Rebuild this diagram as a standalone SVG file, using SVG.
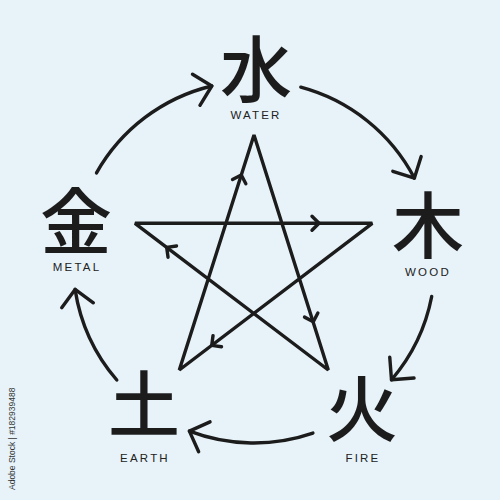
<svg xmlns="http://www.w3.org/2000/svg" width="500" height="500" viewBox="0 0 500 500">
<style>
.ln{fill:none;stroke:#1c1c1c;stroke-width:3.4;stroke-linecap:round;stroke-linejoin:round}
.kanji{font-family:"Noto Sans CJK JP","Noto Sans CJK SC",sans-serif;font-weight:500;font-size:72px;fill:#1c1c1c;text-anchor:middle}
.lbl{font-family:"Liberation Sans",Arial,sans-serif;font-size:11.5px;letter-spacing:2.2px;fill:#222;text-anchor:middle}
.wm{font-family:"Liberation Sans",Arial,sans-serif;font-size:8.5px;fill:#333}
</style>
<defs>
<marker id="bigArrow" markerUnits="userSpaceOnUse" markerWidth="40" markerHeight="40" refX="0" refY="0" orient="auto" overflow="visible">
<path d="M-16,-16 L0,0 L-16,16" class="ln"/>
</marker>
<path id="chev" d="M-7,-7 L0,0 L-7,7" class="ln"/>
</defs>
<rect width="500" height="500" fill="#e7f3f9"/>
<g id="connectors">
<path class="ln" marker-end="url(#bigArrow)" d="M96.5,172.9 A181,181 0 0 1 211.8,86"/>
<path class="ln" marker-end="url(#bigArrow)" d="M300.8,87.2 A181,181 0 0 1 414.4,178.1"/>
<path class="ln" marker-end="url(#bigArrow)" d="M431.7,296.5 A181,181 0 0 1 391.5,379.8"/>
<path class="ln" marker-end="url(#bigArrow)" d="M312.9,433.1 A181,181 0 0 1 189.4,431.1"/>
<path class="ln" marker-end="url(#bigArrow)" d="M116.8,380 A181,181 0 0 1 75.1,289.4"/>
</g>
<g id="star">
<path class="ln" style="stroke-linejoin:miter;stroke-miterlimit:2" d="M179.3,370 L254,135 L328.3,370 L135,223.3 L372.3,223.3 Z"/>
<use href="#chev" transform="translate(241.3,175) rotate(-72.4)"/>
<use href="#chev" transform="translate(313.3,321.7) rotate(72.5)"/>
<use href="#chev" transform="translate(319,223.3)"/>
<use href="#chev" transform="translate(211.7,345.4) rotate(142.8)"/>
<use href="#chev" transform="translate(166.7,247.4) rotate(217.2)"/>
</g>
<g id="water">
<text class="kanji" x="256" y="96">水</text>
<text class="lbl" x="256" y="119">WATER</text>
</g>
<g id="wood">
<text class="kanji" x="428" y="252">木</text>
<text class="lbl" x="428" y="276">WOOD</text>
</g>
<g id="fire">
<text class="kanji" x="362" y="435">火</text>
<text class="lbl" x="363" y="462">FIRE</text>
</g>
<g id="earth">
<text class="kanji" x="144" y="431">土</text>
<text class="lbl" x="145" y="462">EARTH</text>
</g>
<g id="metal">
<text class="kanji" x="76" y="248">金</text>
<text class="lbl" x="77" y="271">METAL</text>
</g>
<text class="wm" transform="translate(15,490) rotate(-90)">Adobe Stock | #182939488</text>
</svg>
